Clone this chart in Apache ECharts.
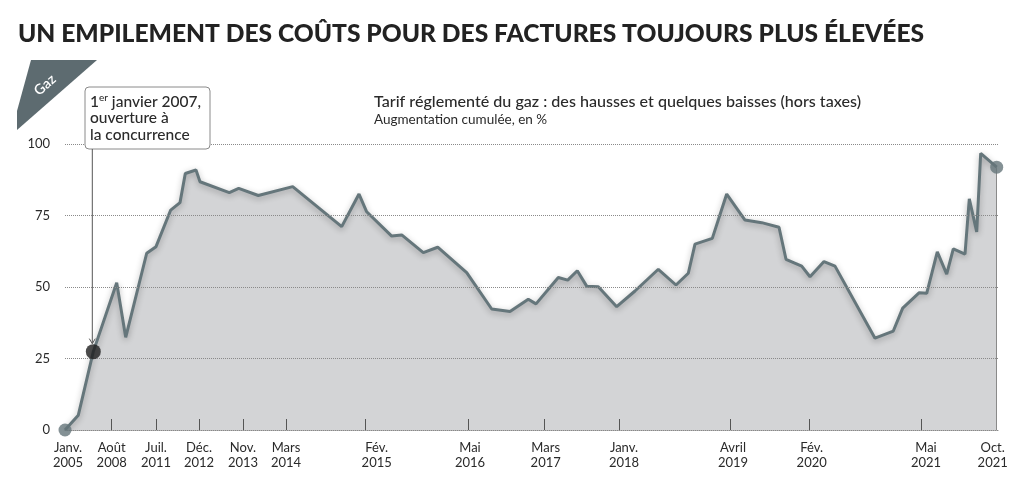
<!DOCTYPE html>
<html><head><meta charset="utf-8">
<script src="https://cdn.jsdelivr.net/npm/echarts@6/dist/echarts.min.js"></script>
<style>html,body{margin:0;padding:0;background:#fff}#c{width:1024px;height:479px}</style>
</head><body><div id="c"></div>
<script>
// Position along the (non-linear) drawn time axis, and cumulative increase in %
const xPos = [0,13.3,28.3,51.7,60.7,81.7,91,105.7,115,120.3,131,135,164.3,173.7,193.3,227.7,276.7,294,301.7,326.7,336.7,358.3,372.7,401.7,426.7,445,463.3,471,493.3,502.7,512.3,521.7,533.3,551.7,570,593.3,611,623.3,630,647.3,661.7,680,696.7,714,721,736.7,745,759,770,810,828.3,837.7,854.3,861.7,872.3,881.7,888.3,900,904.3,911.7,915.7,931.7];
const values = [0,5.2,27.4,51.5,32.4,61.8,64.1,76.9,79.5,89.7,90.9,86.8,83,84.5,82,85.1,71.1,82.5,76.3,67.8,68.2,62,63.9,55,42.3,41.4,45.7,44.1,53.3,52.4,55.7,50.3,50.1,43.1,48.6,56.2,50.7,54.8,65,67,82.5,73.4,72.5,70.9,59.7,57.3,53.6,58.9,57.3,32.1,34.6,42.6,48,47.8,62.3,54.5,63.3,61.5,80.8,69.3,96.7,91.9];
const tickLabels = ['Janv.\n2005','Août\n2008','Juil.\n2011','Déc.\n2012','Nov.\n2013','Mars\n2014','Fév.\n2015','Mai\n2016','Mars\n2017','Janv.\n2018','Avril\n2019','Fév.\n2020','Mai\n2021','Oct.\n2021'];
const labelPos = [3,46.7,91,134,178,221,311.7,405,480.7,559,668,746.7,861,927.7];
const tickPos = [46.7,91,134.7,178.7,221.7,300.7,403.3,479.3,554.3,665.7,744.7,856.7];
const yTicks = [0,25,50,75,100];
const openingIndex = 2; // 1er janvier 2007

const title = 'UN EMPILEMENT DES COÛTS POUR DES FACTURES TOUJOURS PLUS ÉLEVÉES';
const subtitle = 'Tarif réglementé du gaz : des hausses et quelques baisses (hors taxes)';
const subtitle2 = 'Augmentation cumulée, en %';

const LINE = '#65767b', FILL = '#d3d4d6', TXT = '#2a2a2a', FONT = 'Lato';
const chart = echarts.init(document.getElementById('c'));
const pts = xPos.map((x,i)=>[x, values[i]]);
const last = pts[pts.length-1];

chart.setOption({
  animation:false,
  backgroundColor:'#fff',
  textStyle:{fontFamily:FONT},
  title:[
    {text:title,left:13,top:17,textStyle:{fontFamily:FONT,fontWeight:900,fontSize:24.6,color:'#222'}},
    {text:subtitle,subtext:subtitle2,left:369,top:89,itemGap:3,
     textStyle:{fontFamily:FONT,fontWeight:500,fontSize:16.1,color:TXT},
     subtextStyle:{fontFamily:FONT,fontSize:13.5,color:TXT}}
  ],
  grid:{left:65,right:26,top:144,bottom:49},
  xAxis:{type:'value',min:0,max:933,z:3,
    axisLine:{show:true,lineStyle:{color:'#888',type:'dotted',width:1}},
    splitLine:{show:false},
    axisTick:{show:true,inside:true,length:11,customValues:tickPos,lineStyle:{color:'#555',width:1}},
    axisLabel:{customValues:labelPos,margin:11,fontSize:13,lineHeight:14.5,color:TXT,fontFamily:FONT,
      formatter:v=>{const i=labelPos.findIndex(p=>Math.abs(p-v)<0.01);return i>=0?tickLabels[i]:'';}}
  },
  yAxis:{type:'value',min:0,max:100,interval:25,z:3,
    axisLine:{show:false},axisTick:{show:false},
    splitLine:{show:true,lineStyle:{color:'#8a8a8a',type:'dotted',width:1}},
    axisLabel:{margin:15,fontSize:13,color:TXT,fontFamily:FONT,customValues:yTicks}
  },
  series:[
    {type:'line',data:pts,symbol:'none',z:2,
     lineStyle:{color:LINE,width:3,shadowBlur:6,shadowColor:'rgba(0,0,0,0.3)',shadowOffsetY:2},
     areaStyle:{color:FILL,opacity:1,origin:'start'},
     markLine:{silent:true,symbol:'none',label:{show:false},
       lineStyle:{color:'#8a8a8a',type:'solid',width:1},
       data:[[{coord:[last[0],last[1]]},{coord:[last[0],0]}]]}
    },
    {type:'scatter',z:5,symbolSize:13,itemStyle:{color:LINE},
     data:[pts[0],last]},
    {type:'scatter',z:6,symbolSize:15,itemStyle:{color:'#1e1e1e'},
     data:[pts[openingIndex]]}
  ]
});

const dot = chart.convertToPixel({gridIndex:0}, pts[openingIndex]);
const bx = 85, by = 87, bw = 125, bh = 62;
chart.setOption({graphic:[
  {type:'polygon',shape:{points:[[31,60],[97,60],[17,130],[17,111]]},style:{fill:'#5d6b70'},z:10},
  {type:'text',x:45,y:85,rotation:Math.PI*41/180,z:11,
   style:{text:'Gaz',fill:'#fff',font:'600 14px '+FONT,align:'center',verticalAlign:'middle'}},
  {type:'rect',shape:{x:bx,y:by,width:bw,height:bh,r:4},style:{fill:'#fff',stroke:'#8a8a8a',lineWidth:1},z:10},
  {type:'text',x:bx+5,y:by+6,z:11,style:{
    text:'{n|1}{s|er}{n| janvier 2007,}\n{n|ouverture à}\n{n|la concurrence}',
    rich:{n:{font:'500 15.5px '+FONT,fill:TXT,lineHeight:16.5,verticalAlign:'bottom'},
          s:{font:'500 10px '+FONT,fill:TXT,lineHeight:16.5,verticalAlign:'top',padding:[0,0,6,0]}}}},
  {type:'line',shape:{x1:dot[0]-1,y1:by+bh,x2:dot[0]-1,y2:dot[1]-8},style:{stroke:'#555',lineWidth:1},z:10},
  {type:'polyline',shape:{points:[[dot[0]-4,dot[1]-13],[dot[0]-1,dot[1]-8],[dot[0]+2,dot[1]-13]]},style:{stroke:'#555',lineWidth:1,fill:null},z:10}
]});
</script></body></html>
